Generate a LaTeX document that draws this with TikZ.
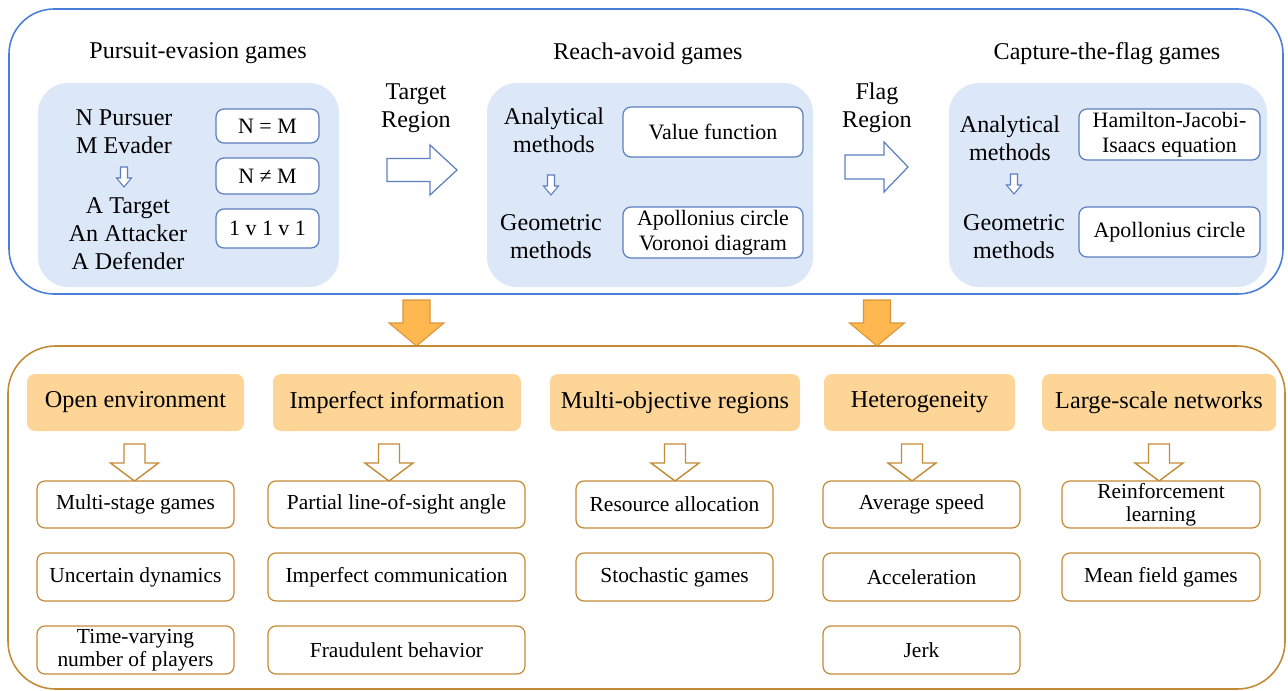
\documentclass[tikz,border=0pt]{standalone}
\usepackage{fontspec}
\setmainfont{Liberation Serif}
\usepackage{tikz}
\usetikzlibrary{positioning}
\definecolor{frameblue}{HTML}{4A7FD9}
\definecolor{panelblue}{HTML}{DCE7F7}
\definecolor{boxblue}{HTML}{5B7FC0}
\definecolor{headorange}{HTML}{FCD597}
\definecolor{brownline}{HTML}{C48B37}
\definecolor{bigfill}{HTML}{FFB84F}
\definecolor{bigline}{HTML}{D9963A}
\newcommand{\pxu}{0.02cm}

\begin{document}
\begin{tikzpicture}[x=0.02cm, y=-0.02cm,
    sz/.style 2 args = {minimum width=#1*\pxu, minimum height=#2*\pxu},
    topframe/.style  = {draw=frameblue, line width=0.9pt, rounded corners=0.9cm, inner sep=0pt},
    botframe/.style  = {draw=brownline, line width=0.9pt, rounded corners=0.95cm, inner sep=0pt},
    panel/.style     = {fill=panelblue, rounded corners=0.6cm, inner sep=0pt},
    ttl/.style       = {align=center, font=\fontsize{13.7}{16}\selectfont},
    lbl/.style       = {align=center, font=\fontsize{13.7}{16}\selectfont},
    wbox/.style      = {draw=boxblue, fill=white, line width=0.7pt, rounded corners=0.16cm,
                        align=center, inner sep=0pt, font=\fontsize{12.5}{14.5}\selectfont},
    head/.style      = {fill=headorange, rounded corners=0.16cm, inner sep=0pt,
                        font=\fontsize{13.8}{16}\selectfont},
    sbox/.style      = {draw=brownline, fill=white, line width=0.7pt, rounded corners=0.16cm,
                        align=center, inner sep=0pt, font=\fontsize{12.2}{13}\selectfont},
    hollow/.style    = {draw=boxblue, fill=white, line width=0.7pt},
    bigarr/.style    = {draw=bigline, fill=bigfill, line width=0.6pt},
    subarr/.style    = {draw=brownline, fill=white, line width=0.8pt},
    pics/downblk/.style n args = {4}{code={
        \path[pic actions] (-#3,0) -- (-#3,#2) -- (-#4,#2) -- (0,#1) -- (#4,#2) -- (#3,#2) -- (#3,0) -- cycle;}},
    pics/rightblk/.style n args = {4}{code={
        \path[pic actions] (0,-#3) -- (#2,-#3) -- (#2,-#4) -- (#1,0) -- (#2,#4) -- (#2,#3) -- (0,#3) -- cycle;}},
  ]
    \useasboundingbox (0,0) rectangle (1288,690);

    %% ── Upper frame: the three game families ────────────────────────────────
    \node[topframe, sz={1274}{285}] (topbox) at (646,151.5) {};

    \node[ttl] (pe) at (198,53)  {Pursuit-evasion games};
    \node[ttl] (ra) at (648,54)  {Reach-avoid games};
    \node[ttl] (cf) at (1107,54) {Capture-the-flag games};

    \node[panel, sz={301}{204}] (pnl1) at (188.5,185) {};
    \node[panel, sz={326}{204}] (pnl2) at (650,185)   {};
    \node[panel, sz={318}{204}] (pnl3) at (1108,185)  {};

    %% Pursuit-evasion panel
    \node[lbl] (nm)  at (124,132) {N Pursuer\\M Evader};
    \pic[hollow, line width=0.6pt] at (124,167) {downblk={20}{11}{3.5}{7.5}};
    \node[lbl] (tad) at (128,234) {A Target\\An Attacker\\A Defender};
    \node[wbox, sz={103}{34}] (eq)  at (267.5,126)   {N = M};
    \node[wbox, sz={103}{36}] (neq) at (267.5,176)   {N ≠ M};
    \node[wbox, sz={103}{39}] (one) at (267.5,228.5) {1 v 1 v 1};

    %% Target Region
    \node[lbl] (treg) at (416,108) {Target\\Region};
    \pic[hollow] at (387,170) {rightblk={70}{43}{11.5}{25}};

    %% Reach-avoid panel
    \node[lbl] (an2) at (554,130) {Analytical\\methods};
    \pic[hollow, line width=0.6pt] at (551,175) {downblk={20}{11}{3.5}{7.5}};
    \node[lbl] (ge2) at (551,237) {Geometric\\methods};
    \node[wbox, sz={180}{50}] (vf)  at (713,132)   {Value function};
    \node[wbox, sz={180}{51}] (apv) at (713,232.5) {Apollonius circle\\Voronoi diagram};

    %% Flag Region
    \node[lbl] (freg) at (877,108) {Flag\\Region};
    \pic[hollow] at (845,167) {rightblk={63}{39}{12}{25}};

    %% Capture-the-flag panel
    \node[lbl] (an3) at (1010,138) {Analytical\\methods};
    \pic[hollow, line width=0.6pt] at (1014,174) {downblk={20}{11}{3.5}{7.5}};
    \node[lbl] (ge3) at (1014,237) {Geometric\\methods};
    \node[wbox, sz={181}{51}] (hji) at (1169.5,134.5) {Hamilton-Jacobi-\\Isaacs equation};
    \node[wbox, sz={181}{50}] (apo) at (1169.5,232)   {Apollonius circle};

    %% ── Orange arrows into the lower frame ──────────────────────────────────
    \pic[bigarr] at (416.5,300) {downblk={46}{23}{13.5}{27.5}};
    \pic[bigarr] at (877,300)   {downblk={46}{23}{13.5}{27.5}};

    %% ── Lower frame: open challenges ────────────────────────────────────────
    \node[botframe, sz={1277}{343}] (botbox) at (646.5,517.5) {};

    \node[head, sz={217}{57}] (open)  at (135.5,402.5) {Open environment};
    \node[head, sz={248}{57}] (imp)   at (397,402.5)   {Imperfect information};
    \node[head, sz={250}{57}] (multi) at (675,402.5)   {Multi-objective regions};
    \node[head, sz={191}{57}] (het)   at (919.5,402.5) {Heterogeneity};
    \node[head, sz={234}{57}] (large) at (1159,402.5)  {Large-scale networks};

    \foreach \cx in {134.5, 389, 675, 912, 1159}
        \pic[subarr] at (\cx,444) {downblk={37}{19}{10.5}{24}};

    %% Open environment
    \node[sbox, sz={197}{47}] (ms)  at (135.5,504.5) {Multi-stage games};
    \node[sbox, sz={197}{48}] (ud)  at (135.5,577)   {Uncertain dynamics};
    \node[sbox, sz={197}{48}] (tv)  at (135.5,650)   {Time-varying\\number of players};

    %% Imperfect information
    \node[sbox, sz={257}{47}] (pl)  at (396.5,504.5) {Partial line-of-sight angle};
    \node[sbox, sz={257}{48}] (ic)  at (396.5,577)   {Imperfect communication};
    \node[sbox, sz={257}{48}] (fb)  at (396.5,650)   {Fraudulent behavior};

    %% Multi-objective regions
    \node[sbox, sz={197}{47}] (rsa) at (674.5,504.5) {Resource allocation};
    \node[sbox, sz={197}{48}] (sg)  at (674.5,577)   {Stochastic games};

    %% Heterogeneity
    \node[sbox, sz={197}{47}] (avs) at (921.5,504.5) {Average speed};
    \node[sbox, sz={197}{48}] (acc) at (921.5,577)   {Acceleration};
    \node[sbox, sz={197}{48}] (jrk) at (921.5,650)   {Jerk};

    %% Large-scale networks
    \node[sbox, sz={198}{47}] (rl)  at (1161,504.5) {Reinforcement\\learning};
    \node[sbox, sz={198}{48}] (mfg) at (1161,577)   {Mean field games};

  \end{tikzpicture}
\end{document}
